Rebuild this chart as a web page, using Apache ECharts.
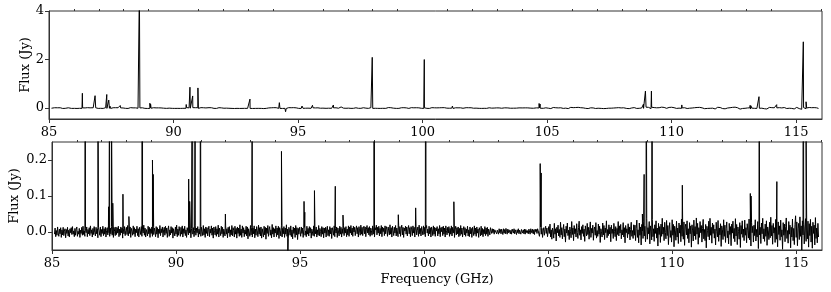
<!DOCTYPE html>
<html>
<head>
<meta charset="utf-8">
<script src="https://cdn.jsdelivr.net/npm/echarts@6/dist/echarts.min.js"></script>
<style>
html,body{margin:0;padding:0;background:#fff;}
#chart{width:831px;height:292px;}
</style>
</head>
<body>
<div id="chart"></div>
<script>
// ---------------- DATA ----------------
// baseline noise (mJy), channels every 0.025 GHz
const noiseStep = 0.025;
const noiseStartA = 85.100;
const noise85to95 = [
-6,11,-13,4,-9,14,-3,-12,8,-5,12,-15,6,-8,13,-10,2,9,-16,7,
-4,13,-11,5,-14,9,-2,12,-7,15,-6,3,-13,10,-9,7,14,-12,2,-6,
10,-15,5,-4,13,-9,16,-7,3,-12,9,-2,14,-13,7,-5,12,-10,17,-4,
6,-14,10,-7,15,-2,-11,13,-5,9,-16,12,3,-9,14,-13,7,-4,16,-10,
9,-6,13,-14,4,12,-8,17,-2,-12,11,-5,15,-9,6,-15,13,2,-10,14,
-7,12,-3,16,-13,8,-9,14,-2,11,-17,9,-5,15,-10,4,13,-7,18,-11,
6,-4,14,-15,10,2,-9,17,-6,12,-13,8,-2,16,-10,9,-14,13,4,-7,
15,-12,6,-3,19,-9,11,-14,7,3,-11,16,-5,13,-15,9,-4,14,-12,17,
-7,11,2,-13,15,-6,12,-16,8,-4,18,-10,9,-2,14,-14,6,13,-9,16,
-4,11,-15,7,17,-12,6,-8,15,-3,12,-17,9,4,-11,14,-6,19,-13,8,
-9,15,2,-12,13,-6,17,-14,9,-4,16,-10,6,-15,12,7,-8,18,-3,11,
-16,9,14,-6,12,-13,4,17,-9,11,-2,15,-14,8,-6,16,-12,13,2,-10,
18,-8,9,-15,14,-4,12,-11,6,16,-13,8,-3,17,-9,11,-17,14,4,-8,
15,-12,9,-6,19,-14,11,2,-10,16,-5,13,-15,8,12,-11,17,-6,9,-16,
13,-3,15,-13,6,-8,18,-11,12,4,-14,16,-6,10,-17,14,-4,11,-12,20,
-9,8,-15,17,-3,12,-13,6,-6,16,-11,14,-19,9,4,-12,18,-8,13,-14,
11,-5,17,-16,8,-9,15,3,-13,19,-6,12,-11,14,-17,9,6,-14,16,-8,
13,-20,11,-4,18,-12,8,15,-9,6,-16,21,-6,12,-14,9,-3,17,-13,11,
-8,16,-18,12,4,-11,19,-14,10,-5,15,-15,11,-6,20,-12,8,-17,13,3,
-9,17,-13,6,-19,14,-4,11,-15,18,-8,12,-21,10,-6,13
];
const noiseStartB = 95.000;
const noise95to105 = [
8,-12,14,-4,11,-15,6,13,-9,3,-13,16,-6,10,-11,15,-3,12,-17,8,
4,-10,17,-12,11,-5,14,-14,6,-8,18,-11,10,2,-13,15,-6,12,-16,11,
-3,13,-14,8,16,-10,6,-12,15,-5,11,-18,12,4,-9,17,-13,10,-3,14,
-15,11,6,-11,16,-6,13,-14,9,-4,19,-10,12,-3,15,-13,8,-8,17,-12,
14,-3,18,-8,11,-12,16,0,13,-10,7,17,-5,12,-14,15,3,-9,19,-6,
13,-10,9,16,-5,14,-13,8,18,-3,12,-8,15,-12,11,4,-9,17,-6,14,
-14,12,6,19,-8,13,-3,16,-11,10,-5,18,-13,14,1,11,-10,17,-5,15,
8,-12,14,3,-8,20,-6,12,-14,16,4,-10,13,-3,18,-11,11,6,-13,17,
-5,15,-12,10,19,-8,13,-15,11,3,16,-6,14,-11,8,18,-5,12,-13,15,
6,-10,17,-3,13,-14,11,16,-8,5,14,-12,19,-5,10,-11,15,3,-8,17,
-6,13,-13,11,18,-3,8,-11,16,-5,12,-14,14,6,-10,17,-6,13,-12,11,
3,15,-11,9,-5,18,-13,12,1,14,-10,16,-6,11,-14,17,4,-8,13,-3,
15,-12,10,-6,17,-11,13,-3,11,-15,8,16,-8,12,-5,14,-13,10,-10,18,
-6,11,-14,5,15,-8,12,-12,8,-3,16,-11,6,-13,14,-5,10,-15,13,2,
-10,17,-6,11,-12,14,-3,8,-15,12,4,-11,16,-8,10,-13,7,-5,15,-10,
11,-6,13,-12,8,2,-8,12,
7,-4,9,-2,8,-6,6,1,10,-5,5,8,-6,9,-2,7,-5,8,3,-7,
9,-3,7,-5,10,1,-6,8,-2,6,9,-5,5,-6,8,4,-3,9,-5,6,
8,-7,6,-2,9,-5,5,8,-6,7,10,-3,6,-5,8,-6,7,9,-3,4,
-5,8,3,-6,9,4,-3,8,-5,6,-7,8,1,7,-4,9,3,
8,-12,5,14,-6,10,-15,3,12,-9,7,16,-4,11,-13
];
const noiseStartC = 105.000;
const noise105to116 = [
-9,15,-4,22,-14,6,-20,11,3,-17,24,-6,9,-25,13,-2,19,-11,7,-15,
27,-8,12,-19,4,21,-13,8,-28,16,-3,25,-10,5,-21,14,2,-16,29,-7,
11,-24,18,-5,9,-14,23,-1,-18,12,30,-9,6,-22,15,-4,20,-12,8,-26,
17,3,-11,24,-7,13,-20,6,28,-15,10,-3,19,-23,7,14,-9,26,-17,4,
-12,22,-6,16,-29,9,1,-14,25,-8,18,-21,11,-2,31,-16,7,-10,20,-5,
13,-27,19,-4,8,-18,24,2,-13,15,-24,10,-7,29,-11,17,-3,21,-19,6,
-8,26,-14,12,-30,18,-2,9,-16,23,-6,14,-22,7,27,-12,4,-18,20,-9,
19,-24,10,33,-15,6,-30,25,-9,14,-36,21,3,-18,28,-11,16,-27,8,37,
-20,12,-5,29,-33,17,2,-22,35,-13,9,-26,20,-4,31,-17,11,-39,24,-7,
15,-29,22,-12,38,-6,13,-24,27,-1,-19,32,-10,18,-35,8,26,-15,4,-28,
34,-9,21,-41,16,5,-23,30,-14,11,-32,25,-3,19,-27,36,-12,7,-20,28,
-37,14,22,-8,31,-18,9,-30,26,-5,17,-42,20,3,-25,33,-11,15,-21,39,
-6,24,-34,12,-15,29,-2,18,-28,10,35,-19,7,-24,21,-44,16,4,-13,30,
-22,38,-9,13,-31,25,-4,20,-17,8,-36,27,1,-14,32,-26,11,-8,23,-40,
17,6,-21,34,-12,19,-29,9,28,-16,3,-33,24,-7,15,-38,22,-3,30,-18,
10,-27,37,-11,21,-35,14,2,-20,26,-43,18,-6,31,-15,8,-24,33,-9,12,
-30,23,5,-17,36,-22,11,-39,27,-2,16,-28,19,-10,34,-25,7,-14,29,-46,
20,-8,13,-32,25,-5,38,-19,9,-26,22,-12,31,-37,14,3,-21,27,-16,41,
-11,18,-34,24,-3,12,-29,35,-20,8,-41,28,-7,17,-23,33,-13,6,-48,26,
-9,22,-27,15,39,-18,4,-31,29,-6,19,-44,13,-14,36,-24,10,-35,21,45,
-15,28,-38,9,24,-21,42,-12,17,-50,31,-8,20,-33,14,37,-26,5,-19,30,
-42,23,-10,35,-28,16,-45,27,-4,19,-36,40,-18,11,-30,24,-14
];
// spectral lines: frequency (GHz) and peak flux (Jy)
const lineFreq = [86.34,86.85,87.28,87.32,87.40,87.45,87.86,88.10,88.63,89.05,89.08,
  90.51,90.55,90.66,90.77,90.98,91.99,93.07,94.25,94.50,95.16,95.19,95.58,96.42,96.73,
  97.98,98.96,99.66,100.07,101.20,104.68,104.72,108.80,108.87,108.95,109.19,110.41,
  113.15,113.18,113.51,114.22,115.29,115.40];
const linePeak = [0.61,0.51,0.07,0.56,0.33,0.08,0.105,0.043,5.0,0.20,0.16,
  0.147,0.085,0.86,0.50,0.83,0.05,0.37,0.224,-0.15,0.085,0.055,0.115,0.127,0.047,
  2.09,0.048,0.067,2.0,0.084,0.19,0.164,0.05,0.16,0.70,0.70,0.13,
  0.107,0.10,0.47,0.14,2.73,0.26];
// axes
const xMin = 85, xMax = 116.04;
const xMajorTicks = [85,90,95,100,105,110,115];
const xMinorTicks = [86,87,88,89,91,92,93,94,96,97,98,99,101,102,103,104,106,107,108,109,111,112,113,114,116];
const yTopTicks = [0,2,4];
const yBotTicks = [0,0.1,0.2];
const yTopRange = [-0.45, 4];
const yBotRange = [-0.05, 0.25];

// ---------------- BUILD ----------------
const spectrum = [];
function addNoise(start, arr){
  arr.forEach((v,i)=>spectrum.push([+(start + i*noiseStep).toFixed(3), v/1000]));
}
addNoise(noiseStartA, noise85to95);
addNoise(noiseStartB, noise95to105);
addNoise(noiseStartC, noise105to116);
lineFreq.forEach((f,i)=>spectrum.push([f, linePeak[i]]));
spectrum.sort((a,b)=>a[0]-b[0]);

const FONT = 'DejaVu Serif';
const txt = {fontFamily: FONT, fontSize: 13, color: '#000'};
function majorX(gi, withName){
  const a = {
    type:'value', gridIndex: gi, min: xMin, max: xMax,
    axisLine:{show:true, onZero:false, lineStyle:{color:'#333', width:1}},
    axisTick:{show:true, inside:false, length:4, customValues:xMajorTicks, lineStyle:{color:'#333'}},
    axisLabel:Object.assign({margin:7, customValues:xMajorTicks}, txt),
    splitLine:{show:false}
  };
  if (withName){
    a.name = 'Frequency (GHz)'; a.nameLocation='middle'; a.nameGap=23; a.nameMoveOverlap=false;
    a.nameTextStyle = Object.assign({}, txt);
  }
  return a;
}
function minorX(gi){
  return {
    type:'value', gridIndex: gi, min: xMin, max: xMax,
    axisLine:{show:false, onZero:false},
    axisTick:{show:true, inside:false, length:2, customValues:xMinorTicks, lineStyle:{color:'#333'}},
    axisLabel:{show:false}, splitLine:{show:false}
  };
}
function yAx(gi, range, ticks, fmt, gap){
  return {
    type:'value', gridIndex: gi, min: range[0], max: range[1],
    name:'Flux (Jy)', nameLocation:'middle', nameGap: gap, nameMoveOverlap:false,
    nameTextStyle:Object.assign({}, txt),
    axisLine:{show:true, onZero:false, lineStyle:{color:'#333', width:1}},
    axisTick:{show:true, inside:false, length:4, customValues:ticks, lineStyle:{color:'#333'}},
    axisLabel:Object.assign({margin:5, customValues:ticks, formatter:fmt}, txt),
    splitLine:{show:false}
  };
}

const chart = echarts.init(document.getElementById('chart'), null, {renderer:'canvas'});
chart.setOption({
  animation:false,
  backgroundColor:'#fff',
  grid:[
    {left:49, top:11, width:773, height:108, show:true, borderColor:'#333', borderWidth:1, backgroundColor:'transparent'},
    {left:49, top:142, width:773, height:108, show:true, borderColor:'#333', borderWidth:1, backgroundColor:'transparent'}
  ],
  xAxis:[majorX(0,false), minorX(0), majorX(1,true), minorX(1)],
  yAxis:[
    yAx(0, yTopRange, yTopTicks, v=>String(Math.round(v)), 17),
    yAx(1, yBotRange, yBotTicks, v=>v.toFixed(1), 31)
  ],
  series:[
    {type:'line', xAxisIndex:0, yAxisIndex:0, data:spectrum, showSymbol:false, symbol:'none',
     clip:true, lineStyle:{color:'#000', width:1}, silent:true},
    {type:'line', xAxisIndex:2, yAxisIndex:1, data:spectrum, showSymbol:false, symbol:'none',
     clip:true, lineStyle:{color:'#000', width:1}, silent:true}
  ]
});
</script>
</body>
</html>
